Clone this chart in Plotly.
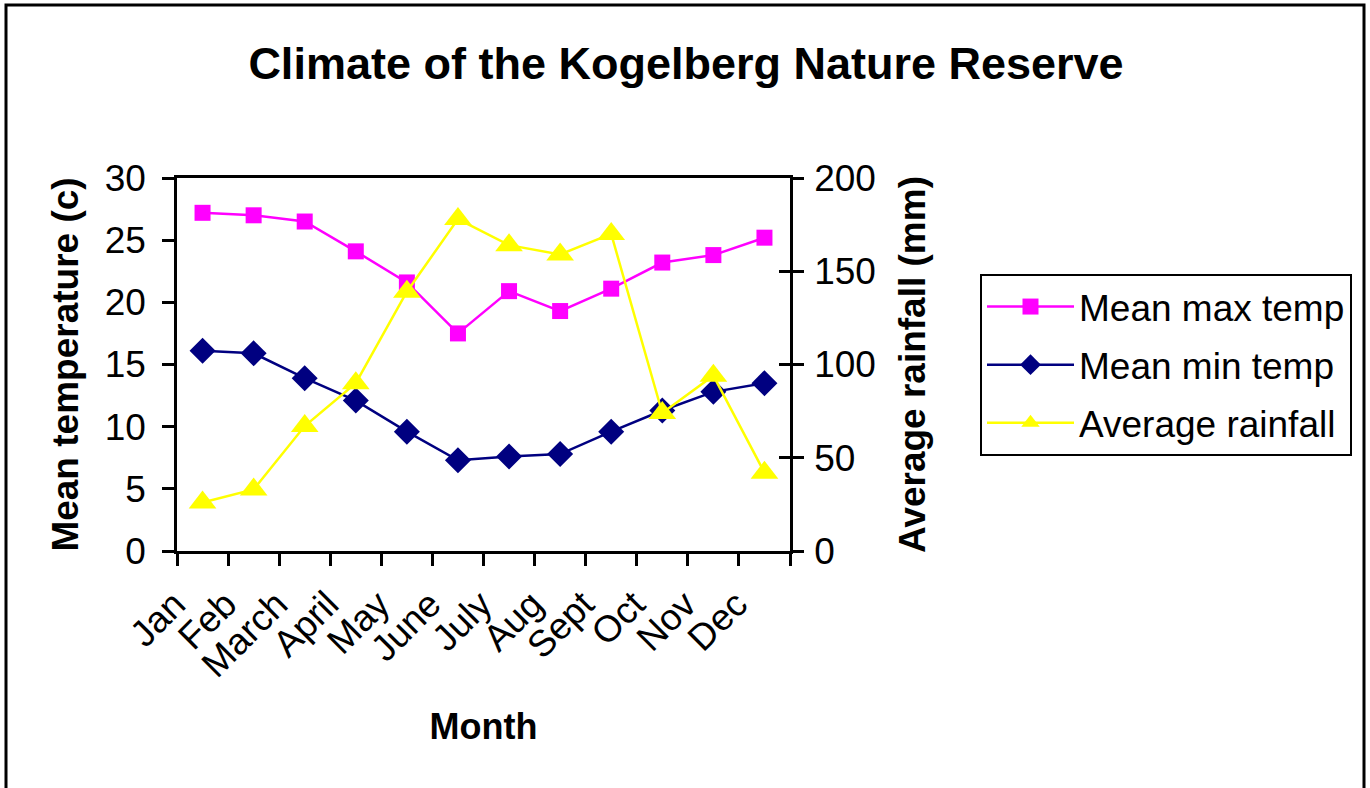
import plotly.graph_objects as go

months = ["Jan", "Feb", "March", "April", "May", "June", "July", "Aug", "Sept", "Oct", "Nov", "Dec"]
max_temp = [27.2, 27.0, 26.5, 24.1, 21.6, 17.5, 20.9, 19.3, 21.1, 23.2, 23.8, 25.2]
min_temp = [16.1, 15.9, 13.9, 12.1, 9.6, 7.3, 7.6, 7.8, 9.6, 11.3, 12.8, 13.5]
rainfall = [26, 33, 67, 90, 139, 178, 164, 159, 170, 74, 94, 42]

FONT = "Liberation Sans, Arial, sans-serif"
W, H = 1370, 788
L, R, T, B = 177, 790, 178, 551

fig = go.Figure()
fig.add_trace(go.Scatter(
    x=months, y=max_temp, name="Mean max temp", mode="lines+markers",
    line=dict(color="#FF00FF", width=2.5),
    marker=dict(symbol="square", size=16, color="#FF00FF"),
    legendgroup="a", yaxis="y"))
fig.add_trace(go.Scatter(
    x=months, y=min_temp, name="Mean min temp", mode="lines+markers",
    line=dict(color="#000080", width=2.5),
    marker=dict(symbol="diamond", size=20, color="#000080"),
    legendgroup="b", yaxis="y"))
fig.add_trace(go.Scatter(
    x=months, y=rainfall, name="Average rainfall", mode="lines+markers",
    line=dict(color="#FFFF00", width=2.5),
    marker=dict(symbol="triangle-up", size=24, color="#FFFF00"),
    legendgroup="c", yaxis="y2"))

pw, ph = R - L, B - T
def px(x):
    return (x - L) / pw
def py(y):
    return (B - y) / ph

fig.update_layout(
    width=W, height=H, autosize=False,
    margin=dict(l=L, r=W - R, t=T, b=H - B),
    paper_bgcolor="white", plot_bgcolor="white",
    font=dict(family=FONT, color="black", size=37),
    title=dict(text="Climate of the Kogelberg Nature Reserve",
               font=dict(family=FONT, size=45, weight="bold", color="black"),
               x=686 / W, xanchor="center", y=1 - 63 / H, yanchor="middle"),
    xaxis=dict(type="category", range=[-0.5, 11.5], tickson="boundaries",
               ticks="outside", ticklen=12, tickwidth=2.5, tickcolor="black",
               showline=True, linecolor="black", linewidth=2.5, mirror=True,
               showgrid=False, zeroline=False, tickangle=-45,
               tickfont=dict(size=37), ticklabelstandoff=14, ticklabelshift=-28,
               title=dict(text="Month", font=dict(size=36, weight="bold"), standoff=30)),
    yaxis=dict(range=[0, 30], dtick=5, ticks="outside", ticklen=12, tickwidth=2.5,
               tickcolor="black", showline=True, linecolor="black", linewidth=2.5,
               showgrid=False, zeroline=False, tickfont=dict(size=37),
               ticklabelstandoff=9,
               title=dict(text="Mean temperature (c)", font=dict(size=37, weight="bold"), standoff=15)),
    yaxis2=dict(range=[0, 200], dtick=50, overlaying="y", side="right", anchor="x",
                ticks="outside", ticklen=11, tickwidth=2.5, tickcolor="black",
                showline=True, linecolor="black", linewidth=2.5,
                showgrid=False, zeroline=False, tickfont=dict(size=37),
                ticklabelstandoff=3,
                title=dict(text="Average rainfall (mm)", font=dict(size=37, weight="bold"), standoff=25)),
    yaxis3=dict(range=[0, 200], dtick=50, overlaying="y", side="right", anchor="x",
                ticks="inside", ticklen=11, tickwidth=2.5, tickcolor="black",
                showline=False, showgrid=False, zeroline=False, showticklabels=False),
    legend=dict(x=px(980), y=py(274), xanchor="left", yanchor="top",
                bordercolor="black", borderwidth=2, bgcolor="white",
                font=dict(size=37), itemwidth=87, tracegroupgap=7),
    showlegend=True,
    shapes=[dict(type="rect", xref="paper", yref="paper",
                 x0=px(6), x1=px(1364), y0=py(810), y1=py(5),
                 line=dict(color="black", width=3), layer="below")],
)
# helper trace so the inner (crossing) tick marks of the right axis are drawn
fig.add_trace(go.Scatter(x=[months[0]], y=[None], yaxis="y3", showlegend=False,
                         hoverinfo="skip", mode="markers"))

fig.write_html("out.html", config={"displayModeBar": False},
               post_script="document.body.style.margin='0';document.body.style.overflow='hidden';")
